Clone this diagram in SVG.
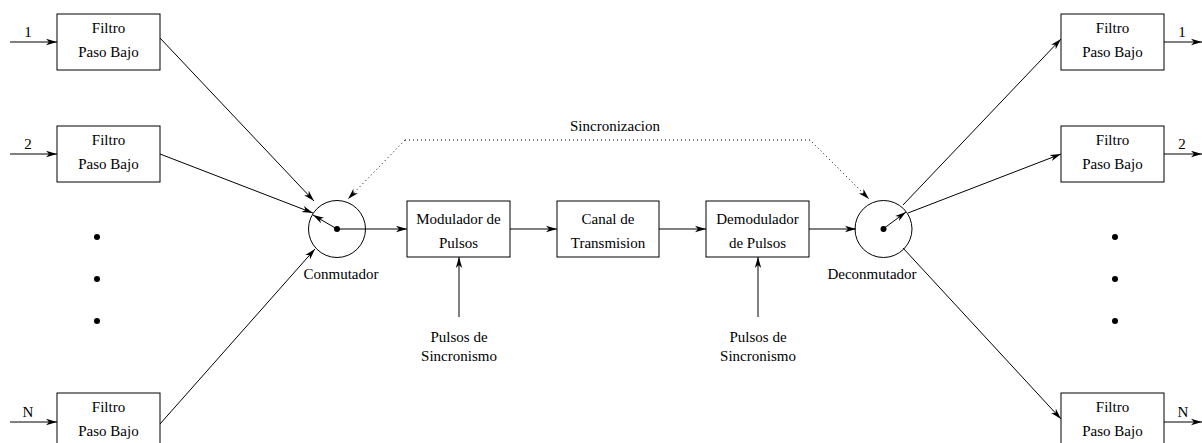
<svg xmlns="http://www.w3.org/2000/svg" width="1202" height="443" viewBox="0 0 1202 443" font-family="'Liberation Serif', 'Times New Roman', Times, serif">
<defs>
<marker id="ah" markerUnits="userSpaceOnUse" markerWidth="12" markerHeight="8" refX="11" refY="4" orient="auto" overflow="visible">
<path d="M0,0.8 L11,4 L0,7.2 L3,4 z" fill="#000"/>
</marker>
</defs>
<style>
text{font-family:'Liberation Serif', 'Times New Roman', Times, serif;font-size:15px;fill:#000;text-anchor:middle}
.box{fill:#fff;stroke:#000;stroke-width:1}
.arr{stroke:#000;stroke-width:1;fill:none;marker-end:url(#ah)}
.dot{stroke:#000;stroke-width:1;fill:none;stroke-dasharray:1 3;marker-end:url(#ah)}
.circ{fill:none;stroke:#000;stroke-width:1}
</style>
<rect width="1202" height="443" fill="#fff"/>
<g id="connectors">
<line class="arr" x1="10" y1="42" x2="57" y2="42"/>
<line class="arr" x1="10" y1="154" x2="57" y2="154"/>
<line class="arr" x1="10" y1="422" x2="57" y2="422"/>
<line class="arr" x1="160" y1="38" x2="314" y2="201"/>
<line class="arr" x1="160" y1="154" x2="313" y2="213"/>
<line class="arr" x1="160" y1="424" x2="315" y2="249"/>
<line class="arr" x1="337" y1="229" x2="313" y2="215"/>
<line class="arr" x1="337" y1="229" x2="407" y2="229"/>
<line class="arr" x1="510" y1="229" x2="557" y2="229"/>
<line class="arr" x1="659" y1="229" x2="706" y2="229"/>
<line class="arr" x1="809" y1="229" x2="856" y2="229"/>
<line class="arr" x1="459" y1="317" x2="459" y2="257"/>
<line class="arr" x1="758" y1="317" x2="758" y2="257"/>
<line class="arr" x1="883" y1="229" x2="906" y2="212"/>
<line class="arr" x1="903" y1="205" x2="1061" y2="39"/>
<line class="arr" x1="908" y1="213" x2="1061" y2="154"/>
<line class="arr" x1="903" y1="248" x2="1061" y2="419"/>
<line class="arr" x1="1164" y1="42" x2="1202" y2="42"/>
<line class="arr" x1="1164" y1="154" x2="1202" y2="154"/>
<line class="arr" x1="1164" y1="422" x2="1202" y2="422"/>
<path class="dot" d="M405,140 L348,199"/>
<path class="dot" d="M405,140 L810,140 L869,199"/>
<text x="615" y="131">Sincronizacion</text>
<text x="28" y="37">1</text>
<text x="28" y="149">2</text>
<text x="28" y="417">N</text>
<text x="1182" y="37">1</text>
<text x="1182" y="149">2</text>
<text x="1183" y="417">N</text>
</g>
<g id="filtro-in-1"><rect class="box" x="57" y="14" width="103" height="56"/><text x="108.5" y="33">Filtro</text><text x="108.5" y="57">Paso Bajo</text></g>
<g id="filtro-in-2"><rect class="box" x="57" y="126" width="103" height="56"/><text x="108.5" y="145">Filtro</text><text x="108.5" y="169">Paso Bajo</text></g>
<g id="filtro-in-N"><rect class="box" x="57" y="393" width="103" height="56"/><text x="108.5" y="412">Filtro</text><text x="108.5" y="436">Paso Bajo</text></g>
<g id="dots-left"><circle cx="97" cy="237" r="3"/><circle cx="97" cy="279" r="3"/><circle cx="97" cy="321" r="3"/></g>
<g id="conmutador"><circle class="circ" cx="337" cy="229" r="28.5"/><circle cx="337" cy="229" r="3"/><text x="341" y="279">Conmutador</text></g>
<g id="modulador"><rect class="box" x="407" y="201" width="103" height="56"/><text x="458.5" y="224">Modulador de</text><text x="458.5" y="248">Pulsos</text></g>
<g id="canal"><rect class="box" x="557" y="201" width="102" height="56"/><text x="608" y="224">Canal de</text><text x="608" y="248">Transmision</text></g>
<g id="demodulador"><rect class="box" x="706" y="201" width="103" height="56"/><text x="757.5" y="224">Demodulador</text><text x="757.5" y="248">de Pulsos</text></g>
<g id="pulsos-1"><text x="459" y="342">Pulsos de</text><text x="459" y="361">Sincronismo</text></g>
<g id="pulsos-2"><text x="758" y="342">Pulsos de</text><text x="758" y="361">Sincronismo</text></g>
<g id="deconmutador"><circle class="circ" cx="883.5" cy="229" r="28.5"/><circle cx="883.5" cy="229" r="3"/><text x="872" y="279">Deconmutador</text></g>
<g id="dots-right"><circle cx="1115" cy="237" r="3"/><circle cx="1115" cy="279" r="3"/><circle cx="1115" cy="321" r="3"/></g>
<g id="filtro-out-1"><rect class="box" x="1061" y="14" width="103" height="56"/><text x="1112.5" y="33">Filtro</text><text x="1112.5" y="57">Paso Bajo</text></g>
<g id="filtro-out-2"><rect class="box" x="1061" y="126" width="103" height="56"/><text x="1112.5" y="145">Filtro</text><text x="1112.5" y="169">Paso Bajo</text></g>
<g id="filtro-out-N"><rect class="box" x="1061" y="393" width="103" height="56"/><text x="1112.5" y="412">Filtro</text><text x="1112.5" y="436">Paso Bajo</text></g>
</svg>
